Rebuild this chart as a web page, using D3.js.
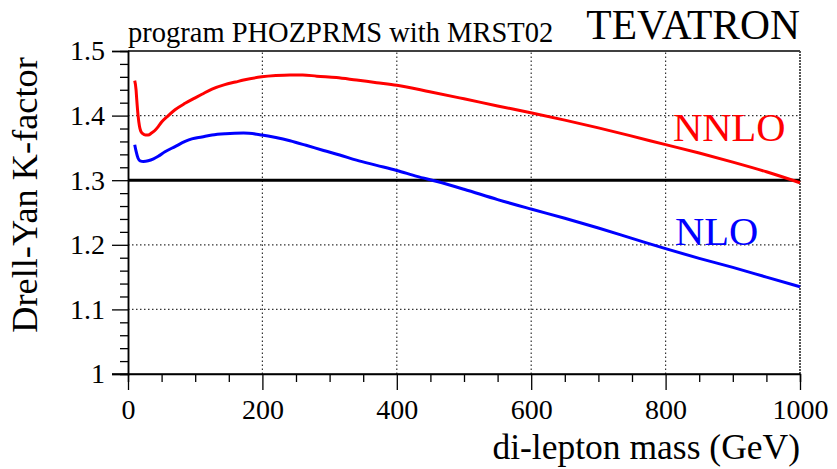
<!DOCTYPE html>
<html><head><meta charset="utf-8">
<script src="https://cdn.jsdelivr.net/npm/d3@7/dist/d3.min.js"></script>
<style>
html,body{margin:0;padding:0;background:#fff;}
svg{display:block;}
text{font-family:"Liberation Serif","Times New Roman",serif;fill:#000;}
</style></head>
<body><svg id="c" width="837" height="469"></svg>
<script>
// ---- data ----
const nnloMass = [10,12,13,15,17,19,22,26,30,35,40,45,50,60,70,85,100,110,125,144,160,172,199,220,241,260,281,310,340,370,400,449,500,550,601,650,700,747,800,850,900,950,1000];
const nnloK    = [1.454,1.440,1.425,1.400,1.384,1.376,1.372,1.370,1.370,1.373,1.377,1.383,1.390,1.400,1.409,1.419,1.4275,1.433,1.441,1.448,1.452,1.455,1.460,1.462,1.463,1.463,1.461,1.459,1.455,1.451,1.447,1.437,1.426,1.415,1.404,1.393,1.381,1.369,1.355,1.342,1.328,1.313,1.296];
const nloMass  = [10,12,15,18,23,30,38,45,55,70,85,95,110,125,145,172,199,220,241,265,291,315,340,370,400,430,460,500,550,601,650,700,750,800,850,900,950,1000];
const nloK     = [1.355,1.345,1.334,1.330,1.329,1.330,1.333,1.337,1.344,1.352,1.360,1.364,1.367,1.370,1.372,1.373,1.370,1.366,1.361,1.354,1.346,1.339,1.331,1.323,1.315,1.306,1.298,1.286,1.270,1.255,1.241,1.226,1.210,1.194,1.179,1.165,1.150,1.135];
const xMajorTicks = [0,200,400,600,800,1000];
const yMajorTicks = [1,1.1,1.2,1.3,1.4,1.5];
const xGrid = [200,400,600,800];
const yGrid = [1.1,1.2,1.4];
const refLine = 1.3;
const title = "program PHOZPRMS with MRST02";
const collider = "TEVATRON";
const xLabel = "di-lepton mass (GeV)";
const yLabel = "Drell-Yan K-factor";
const seriesNames = ["NNLO","NLO"];

// ---- drawing ----
const FONT = '"Liberation Serif","Times New Roman",serif';
const svg = d3.select("#c");
const x = d3.scaleLinear().domain([0,1000]).range([128,800]);
const y = d3.scaleLinear().domain([1,1.5]).range([374,51]);

// grid
svg.append("g").selectAll("line").data(xGrid).join("line")
  .attr("x1",d=>x(d)).attr("x2",d=>x(d)).attr("y1",y(1)).attr("y2",y(1.5))
  .attr("stroke","#333").attr("stroke-width",1.2).attr("stroke-dasharray","1.5,2.5");
svg.append("g").selectAll("line").data(yGrid).join("line")
  .attr("x1",x(0)).attr("x2",x(1000)).attr("y1",d=>y(d)).attr("y2",d=>y(d))
  .attr("stroke","#333").attr("stroke-width",1.2).attr("stroke-dasharray","1.5,2.5");

// frame top / right
svg.append("line").attr("x1",x(0)).attr("x2",x(1000)).attr("y1",y(1.5)).attr("y2",y(1.5))
  .attr("stroke","#000").attr("stroke-width",1.3);
svg.append("line").attr("x1",x(1000)).attr("x2",x(1000)).attr("y1",y(1.5)).attr("y2",y(1))
  .attr("stroke","#444").attr("stroke-width",1.8).attr("stroke-dasharray","2,1");

// axes
const fs = 28;
const xMinor = d3.range(0,1001,50).filter(v=>!xMajorTicks.includes(v));
const yMinor = d3.range(0,26).map(i=>+(1+i*0.02).toFixed(2)).filter(v=>!yMajorTicks.some(t=>Math.abs(t-v)<1e-9));

const gxMin = svg.append("g").attr("transform",`translate(0,${y(1)})`)
  .call(d3.axisBottom(x).tickValues(xMinor).tickSize(8).tickFormat(""));
const gx = svg.append("g").attr("transform",`translate(0,${y(1)})`)
  .call(d3.axisBottom(x).tickValues(xMajorTicks).tickSize(16).tickPadding(9).tickFormat(d3.format("d")));
const gyMin = svg.append("g").attr("transform",`translate(${x(0)},0)`)
  .call(d3.axisLeft(y).tickValues(yMinor).tickSize(8).tickFormat(""));
const gy = svg.append("g").attr("transform",`translate(${x(0)},0)`)
  .call(d3.axisLeft(y).tickValues(yMajorTicks).tickSize(16).tickPadding(7).tickFormat(d=>d===1?"1":d3.format(".1f")(d)));
[gxMin,gx,gyMin,gy].forEach(g=>{
  g.attr("font-family",null).attr("font-size",null);
  g.selectAll(".domain").attr("stroke","#000").attr("stroke-width",1.5);
  g.selectAll(".tick line").attr("stroke","#000").attr("stroke-width",1.3);
  g.selectAll("text").style("font-family",FONT).style("font-size",fs+"px").attr("fill","#000");
});
gx.selectAll(".domain").attr("d",`M${x(0)-16},0H${x(1000)}`);

// reference line
svg.append("line").attr("x1",x(0)).attr("x2",x(1000)).attr("y1",y(refLine)).attr("y2",y(refLine))
  .attr("stroke","#000").attr("stroke-width",3);

// curves
const line = d3.line().x(d=>x(d[0])).y(d=>y(d[1])).curve(d3.curveMonotoneX);
svg.append("path").datum(nnloMass.map((m,i)=>[m,nnloK[i]])).attr("d",line)
  .attr("fill","none").attr("stroke","#ff0000").attr("stroke-width",3);
svg.append("path").datum(nloMass.map((m,i)=>[m,nloK[i]])).attr("d",line)
  .attr("fill","none").attr("stroke","#0000ff").attr("stroke-width",3);

// labels
function txt(xp,yp,size,str,color,anchor){
  return svg.append("text").attr("x",xp).attr("y",yp).attr("text-anchor",anchor||"start")
    .style("font-family",FONT).style("font-size",size+"px").style("fill",color||"#000").text(str);
}
txt(673,141,40.5,seriesNames[0],"#ff0000");
txt(675,245,40.5,seriesNames[1],"#0000ff");
txt(128,42,28.5,title);
txt(800,39,41.5,collider,"#000","end");
txt(800,459,35.5,xLabel,"#000","end");
svg.append("text").attr("transform","translate(37,195) rotate(-90)").attr("text-anchor","middle")
  .style("font-family",FONT).style("font-size","36.3px").text(yLabel);
</script></body></html>
